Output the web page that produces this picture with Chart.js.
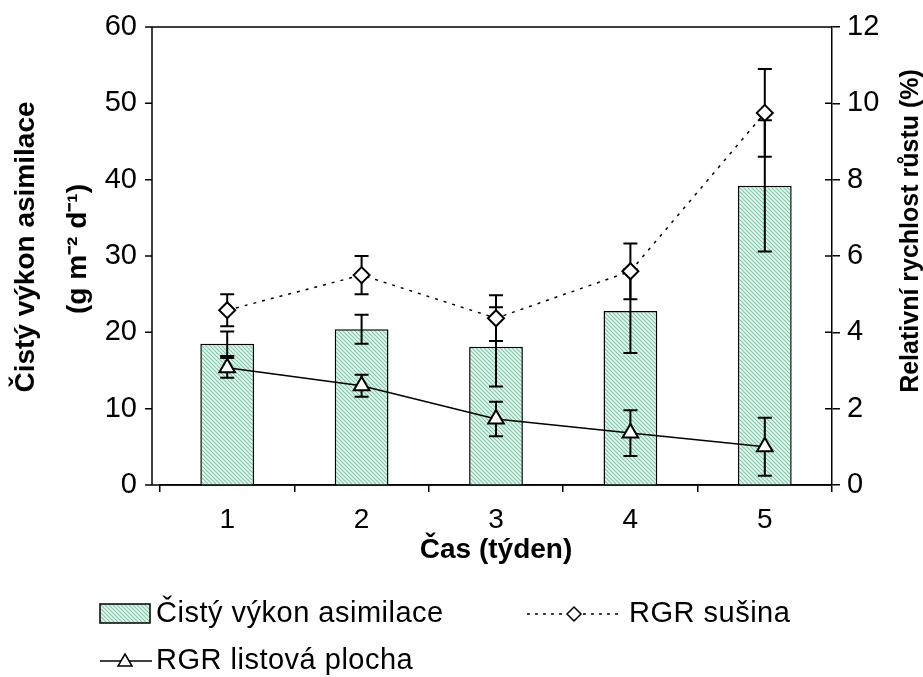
<!DOCTYPE html>
<html>
<head>
<meta charset="utf-8">
<script src="https://cdn.jsdelivr.net/npm/chart.js@4.4.1/dist/chart.umd.min.js"></script>
<style>
html,body{margin:0;padding:0;background:#fff;}
#c{display:block;}
</style>
</head>
<body>
<canvas id="c" width="923" height="677"></canvas>
<script>
// values
const weeks = ["1", "2", "3", "4", "5"];
const narValues = [18.5, 20.4, 18.1, 22.8, 39.2];
const narErr = [1.6, 1.9, 5.2, 5.5, 8.6];
const rgrSusina = [4.58, 5.5, 4.37, 5.6, 9.75];
const rgrSusinaErr = [0.42, 0.5, 0.6, 0.73, 1.15];
const rgrList = [3.07, 2.6, 1.73, 1.36, 1.0];
const rgrListErr = [0.26, 0.29, 0.45, 0.6, 0.76];
const leftTicks = [0, 10, 20, 30, 40, 50, 60];
const rightTicks = [0, 2, 4, 6, 8, 10, 12];
const leftTitle = ["Čistý výkon asimilace", "(g m⁻² d⁻¹)"];
const rightTitle = "Relativní rychlost růstu (%)";

const FONT = "'Liberation Sans', Arial, sans-serif";
const AXIS_X = 152; // left axis line sits a little left of the category area

function hatch(){
  const c = document.createElement("canvas");
  c.width = 4; c.height = 4;
  const g = c.getContext("2d");
  g.fillStyle = "#eaf6f0";
  g.fillRect(0, 0, 4, 4);
  g.strokeStyle = "#80c7a9";
  g.lineWidth = 1.1;
  g.beginPath();
  g.moveTo(0, 0); g.lineTo(4, 4);
  g.moveTo(-1, 3); g.lineTo(1, 5);
  g.moveTo(3, -1); g.lineTo(5, 1);
  g.stroke();
  return g.createPattern(c, "repeat");
}
const pattern = hatch();

const errs = [narErr, rgrSusinaErr, rgrListErr];

function drawErr(chart, i){
  const meta = chart.getDatasetMeta(i);
  const ds = chart.data.datasets[i];
  const sc = chart.scales[ds.yAxisID];
  const ctx = chart.ctx;
  ctx.save();
  ctx.strokeStyle = "#000";
  ctx.lineWidth = 2;
  meta.data.forEach((el, k) => {
    const v = ds.data[k], e = errs[i][k];
    const x = el.x;
    const y1 = sc.getPixelForValue(v + e);
    const y2 = sc.getPixelForValue(v - e);
    ctx.beginPath();
    ctx.moveTo(x, y1); ctx.lineTo(x, y2);
    ctx.moveTo(x - 7, y1); ctx.lineTo(x + 7, y1);
    ctx.moveTo(x - 7, y2); ctx.lineTo(x + 7, y2);
    ctx.stroke();
  });
  ctx.restore();
}

const errorBars = {
  id: "errorBars",
  afterDatasetDraw(chart, args){
    if (args.index === 0) drawErr(chart, 0);
  },
  beforeDatasetDraw(chart, args){
    if (args.index > 0) drawErr(chart, args.index);
  }
};

const extras = {
  id: "extras",
  beforeDatasetsDraw(chart){
    const ctx = chart.ctx;
    const a = chart.chartArea;
    const l = chart.scales.y;
    const r = chart.scales.y1;
    ctx.save();
    ctx.strokeStyle = "#000";
    ctx.lineWidth = 1.5;
    ctx.beginPath();
    ctx.moveTo(AXIS_X, a.top); ctx.lineTo(AXIS_X, a.bottom);
    ctx.moveTo(AXIS_X, a.top); ctx.lineTo(a.right, a.top);
    ctx.moveTo(AXIS_X, a.bottom); ctx.lineTo(a.right, a.bottom);
    leftTicks.forEach(t => {
      const y = l.getPixelForValue(t);
      ctx.moveTo(AXIS_X - 7, y); ctx.lineTo(AXIS_X, y);
    });
    rightTicks.forEach(t => {
      const y = r.getPixelForValue(t);
      ctx.moveTo(a.right - 7, y); ctx.lineTo(a.right, y);
    });
    ctx.stroke();
    ctx.restore();
  },
  afterDraw(chart){
    const ctx = chart.ctx;
    ctx.save();
    ctx.fillStyle = "#000";
    ctx.textBaseline = "middle";
    ctx.textAlign = "center";
    // axis titles, both reading bottom to top
    ctx.font = "bold 28px " + FONT;
    ctx.save(); ctx.translate(26, 247); ctx.rotate(-Math.PI / 2); ctx.fillText(leftTitle[0], 0, 0); ctx.restore();
    ctx.save(); ctx.translate(78, 249); ctx.rotate(-Math.PI / 2); ctx.fillText(leftTitle[1], 0, 0); ctx.restore();
    ctx.font = "bold 25px " + FONT;
    ctx.save(); ctx.translate(911, 231); ctx.rotate(-Math.PI / 2); ctx.fillText(rightTitle, 0, 0); ctx.restore();

    ctx.textAlign = "left";
    ctx.font = "29px " + FONT;
    ctx.letterSpacing = "0.5px";
    // bar swatch
    ctx.fillStyle = pattern;
    ctx.fillRect(100, 604, 50, 19);
    ctx.strokeStyle = "#000";
    ctx.lineWidth = 1.5;
    ctx.strokeRect(100, 604, 50, 19);
    ctx.fillStyle = "#000";
    ctx.fillText("Čistý výkon asimilace", 156, 614);
    // RGR sušina
    ctx.setLineDash([3, 5]);
    ctx.beginPath();
    ctx.moveTo(527, 614); ctx.lineTo(622, 614);
    ctx.stroke();
    ctx.setLineDash([]);
    ctx.beginPath();
    ctx.moveTo(574, 607); ctx.lineTo(581, 614); ctx.lineTo(574, 621); ctx.lineTo(567, 614); ctx.closePath();
    ctx.fillStyle = "#fff"; ctx.fill(); ctx.stroke();
    ctx.fillStyle = "#000";
    ctx.fillText("RGR sušina", 629, 614);
    // RGR listová plocha
    ctx.beginPath();
    ctx.moveTo(100, 661); ctx.lineTo(152, 661);
    ctx.stroke();
    ctx.beginPath();
    ctx.moveTo(125, 654); ctx.lineTo(132, 666); ctx.lineTo(118, 666); ctx.closePath();
    ctx.fillStyle = "#fff"; ctx.fill(); ctx.stroke();
    ctx.fillStyle = "#000";
    ctx.fillText("RGR listová plocha", 156, 661);
    ctx.restore();
  }
};

new Chart(document.getElementById("c"), {
  type: "bar",
  data: {
    labels: weeks,
    datasets: [
      {
        type: "bar",
        label: "Čistý výkon asimilace",
        data: narValues,
        yAxisID: "y",
        backgroundColor: pattern,
        borderColor: "#000",
        borderWidth: 1.5,
        barPercentage: 0.4,
        categoryPercentage: 1,
        order: 2
      },
      {
        type: "line",
        label: "RGR sušina",
        data: rgrSusina,
        yAxisID: "y1",
        borderColor: "#000",
        borderWidth: 1.5,
        borderDash: [3, 6],
        pointStyle: "rectRot",
        pointRadius: 8,
        pointBackgroundColor: "#fff",
        pointBorderColor: "#000",
        pointBorderWidth: 2,
        fill: false,
        order: 1
      },
      {
        type: "line",
        label: "RGR listová plocha",
        data: rgrList,
        yAxisID: "y1",
        borderColor: "#000",
        borderWidth: 1.5,
        pointStyle: "triangle",
        pointRadius: 9,
        pointBackgroundColor: "#fff",
        pointBorderColor: "#000",
        pointBorderWidth: 2,
        fill: false,
        order: 0
      }
    ]
  },
  options: {
    responsive: false,
    animation: false,
    layout: { padding: { top: 27, bottom: 108, left: 0, right: 0 } },
    plugins: { legend: { display: false }, tooltip: { enabled: false } },
    scales: {
      x: {
        grid: { drawOnChartArea: false, tickLength: 7, color: "#000", lineWidth: 1.5, offset: true },
        border: { color: "#000", width: 1.5 },
        ticks: { color: "#000", font: { family: FONT, size: 28 }, padding: 11 },
        title: { display: true, text: "Čas (týden)", color: "#000", font: { family: FONT, size: 28, weight: "bold", lineHeight: 1.1 }, padding: { top: 0, bottom: 3 } },
        afterFit(s){ s.height = 84; }
      },
      y: {
        position: "left",
        min: 0, max: 60,
        afterBuildTicks(s){ s.ticks = leftTicks.map(v => ({ value: v })); },
        grid: { display: true, drawOnChartArea: false, drawTicks: true, tickLength: 15, color: "rgba(0,0,0,0)" },
        border: { display: false },
        ticks: { color: "#000", font: { family: FONT, size: 29 }, padding: 8 },
        title: { display: false },
        afterFit(s){ s.width = 160; }
      },
      y1: {
        position: "right",
        min: 0, max: 12,
        afterBuildTicks(s){ s.ticks = rightTicks.map(v => ({ value: v })); },
        grid: { drawOnChartArea: false, tickLength: 8, color: "#000", lineWidth: 1.5 },
        border: { color: "#000", width: 1.5 },
        ticks: { color: "#000", font: { family: FONT, size: 29 }, padding: 7 },
        title: { display: false },
        afterFit(s){ s.width = 91; }
      }
    }
  },
  plugins: [errorBars, extras]
});
</script>
</body>
</html>
